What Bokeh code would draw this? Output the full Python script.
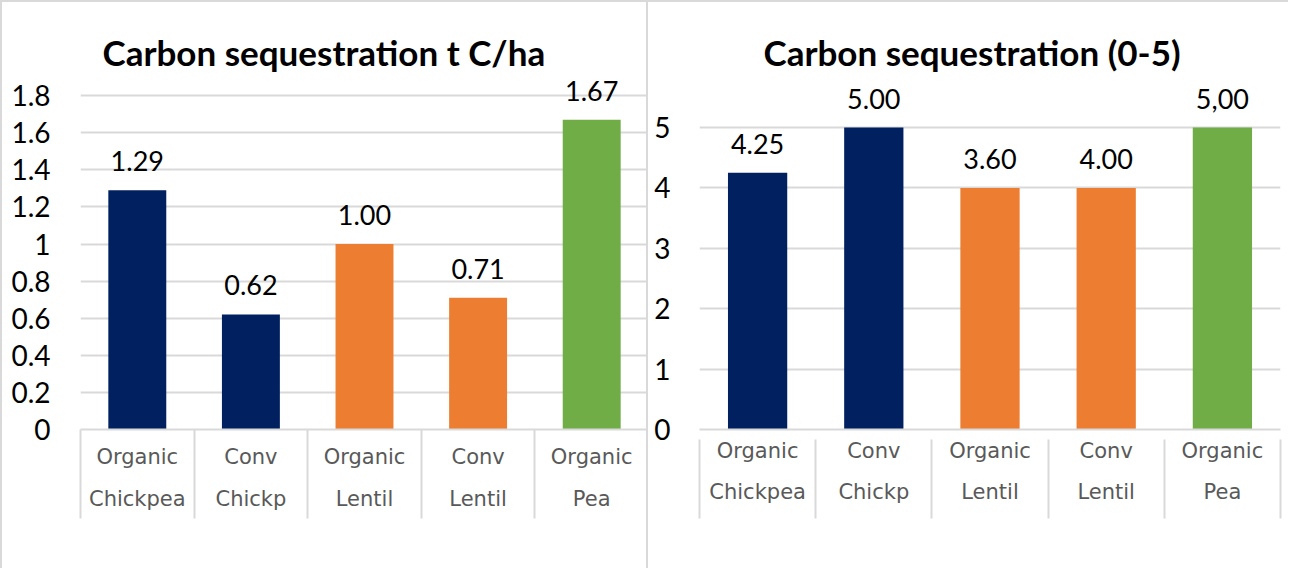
from bokeh.plotting import figure
from bokeh.models import Range1d, FixedTicker, LinearAxis, ColumnDataSource
from bokeh.layouts import row
from bokeh.embed import file_html
from bokeh.resources import INLINE
from bokeh.core.properties import value

# ---------------- data ----------------
label_line1 = ["Organic", "Conv", "Organic", "Conv", "Organic"]
label_line2 = ["Chickpea", "Chickp", "Lentil", "Lentil", "Pea"]
crops = ["Chickpea", "Chickpea", "Lentil", "Lentil", "Pea"]

left_title = "Carbon sequestration t C/ha"
left_values = [1.29, 0.62, 1.00, 0.71, 1.67]
left_value_labels = ["1.29", "0.62", "1.00", "0.71", "1.67"]
left_ticks = [0, 0.2, 0.4, 0.6, 0.8, 1.0, 1.2, 1.4, 1.6, 1.8]
left_tick_labels = ["0", "0.2", "0.4", "0.6", "0.8", "1", "1.2", "1.4", "1.6", "1.8"]

right_title = "Carbon sequestration (0-5)"
right_values = [4.25, 5.00, 4.00, 4.00, 5.00]
right_value_labels = ["4.25", "5.00", "3.60", "4.00", "5,00"]
right_ticks = [0, 1, 2, 3, 4, 5]
right_tick_labels = ["0", "1", "2", "3", "4", "5"]

crop_colors = {"Chickpea": "#002060", "Lentil": "#ED7D31", "Pea": "#70AD47"}

FONT = "Lato"
CAT_FONT = "DejaVu Sans"
GRID = "#D9D9D9"


def label_axis(centers, labels, standoff):
    ax = LinearAxis(ticker=FixedTicker(ticks=centers))
    ax.major_label_overrides = {c: l for c, l in zip(centers, labels)}
    ax.major_tick_out = 0
    ax.major_tick_in = 0
    ax.minor_tick_out = 0
    ax.minor_tick_in = 0
    ax.major_tick_line_color = None
    ax.minor_tick_line_color = None
    ax.axis_line_color = None
    ax.major_label_standoff = standoff
    ax.major_label_text_font = CAT_FONT
    ax.major_label_text_font_size = "21px"
    ax.major_label_text_color = "#595959"
    return ax


def make_chart(title, values, value_labels, ticks, tick_labels, width,
               y_end, min_left, min_right, title_offset, cat_standoff1,
               cat_standoff2, bound_in, bound_out, tick_standoff):
    n = len(values)
    centers = [i + 0.5 for i in range(n)]
    bounds = [i for i in range(n + 1)]
    src = ColumnDataSource(dict(
        x=centers, top=values, label=value_labels,
        color=[crop_colors[c] for c in crops],
    ))
    p = figure(width=width, height=568, output_backend="svg", toolbar_location=None,
               x_range=Range1d(0, n), y_range=Range1d(0, y_end),
               x_axis_location=None,
               min_border_left=min_left, min_border_right=min_right,
               min_border_top=68, min_border_bottom=141)
    p.outline_line_color = None
    p.background_fill_color = "white"
    p.border_fill_color = "white"

    p.title.text = title
    p.title.text_font = FONT
    p.title.text_font_style = "bold"
    p.title.text_font_size = "35px"
    p.title.align = "left"
    p.title.offset = title_offset
    p.title.standoff = -5
    p.title.text_color = "#000000"

    p.vbar(x="x", top="top", width=0.51, fill_color="color", line_color=None, source=src)
    p.text(x="x", y="top", text="label", source=src, text_align="center",
           text_baseline="bottom", y_offset=-19, text_font=value(FONT),
           text_font_size="27px", text_color="#000000")

    # y axis
    yax = p.yaxis[0]
    yax.ticker = FixedTicker(ticks=ticks)
    yax.major_label_overrides = {t: l for t, l in zip(ticks, tick_labels)}
    yax.major_tick_out = 0
    yax.major_tick_in = 0
    yax.minor_tick_out = 0
    yax.minor_tick_in = 0
    yax.axis_line_color = None
    yax.major_label_standoff = tick_standoff
    yax.major_label_text_font = FONT
    yax.major_label_text_font_size = "28px"
    yax.major_label_text_color = "#000000"

    p.ygrid.ticker = FixedTicker(ticks=ticks)
    p.ygrid.grid_line_color = GRID
    p.ygrid.grid_line_width = 2
    p.xgrid.grid_line_color = None

    # category axis: first line (with the axis line), second line
    ax1 = label_axis(centers, label_line1, cat_standoff1)
    ax1.axis_line_color = GRID
    ax1.axis_line_width = 2
    p.add_layout(ax1, "below")
    ax2 = label_axis(centers, label_line2, cat_standoff2)
    p.add_layout(ax2, "below")

    # category boundary lines, drawn upward from the outermost axis
    ax3 = LinearAxis(ticker=FixedTicker(ticks=bounds))
    ax3.major_label_overrides = {b: "" for b in bounds}
    ax3.major_label_text_font_size = "1px"
    ax3.major_label_standoff = 0
    ax3.axis_line_color = None
    ax3.major_tick_in = bound_in
    ax3.major_tick_out = bound_out
    ax3.major_tick_line_color = GRID
    ax3.major_tick_line_width = 2
    ax3.minor_tick_line_color = None
    ax3.minor_tick_in = 0
    ax3.minor_tick_out = 0
    p.add_layout(ax3, "below")

    p.styles = {"border-left": "2px solid #D9D9D9", "border-top": "2px solid #D9D9D9"}
    return p


left = make_chart(left_title, left_values, left_value_labels, left_ticks, left_tick_labels,
                  width=646, y_end=(429 - 70) / 185.5, min_left=78, min_right=0,
                  title_offset=22, cat_standoff1=15, cat_standoff2=15,
                  bound_in=84, bound_out=5, tick_standoff=30)
right = make_chart(right_title, right_values, right_value_labels, right_ticks, right_tick_labels,
                   width=642, y_end=(429 - 70) / 60.4, min_left=51, min_right=10,
                   title_offset=64, cat_standoff1=9, cat_standoff2=14,
                   bound_in=67, bound_out=12, tick_standoff=29)

layout = row(left, right)
open("out.html", "w").write(file_html(layout, INLINE))
